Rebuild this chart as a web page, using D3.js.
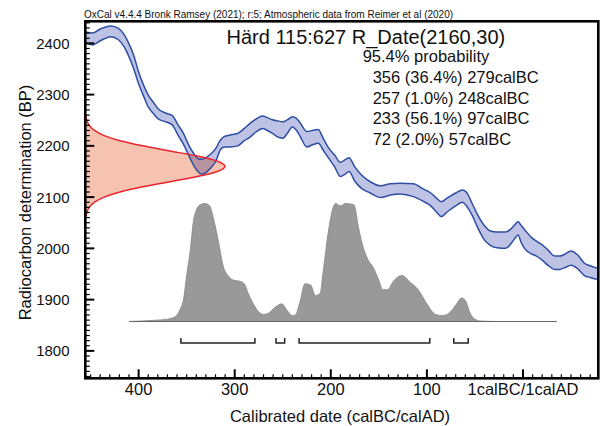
<!DOCTYPE html>
<html><head><meta charset="utf-8">
<script src="https://cdn.jsdelivr.net/npm/d3@7"></script>
<style>
html,body{margin:0;padding:0;background:#fff;}
svg{display:block;font-family:"Liberation Sans",Arial,sans-serif;}
</style></head>
<body><svg id="c" width="600" height="426"></svg>
<script>
// ---- data (years: negative = calBC, 0 = 1calBC/1calAD boundary) ----
const headerText = "OxCal v4.4.4 Bronk Ramsey (2021); r:5; Atmospheric data from Reimer et al (2020)";
const titleText = "Härd 115:627 R_Date(2160,30)";
const probText = "95.4% probability";
const rangeFrom = [356, 257, 233, 72];
const rangeTo = [279, 248, 97, 57];
const rangePct = ["36.4%", "1.0%", "56.1%", "2.0%"];

const xTickValues = [-400, -300, -200, -100, 0];
const xTickLabels = ["400", "300", "200", "100", "1calBC/1calAD"];
const yTickValues = [1800, 1900, 2000, 2100, 2200, 2300, 2400];

// calibration curve (IntCal20) band: year, upper BP, lower BP
const curveYears = [-455,-448,-440,-429,-421,-415,-411,-405,-400,-395,-390,-385,-380,-372,-365,-359,-353,-348,-343,-338,-334,-330,-325,-320,-315,-311,-305,-297,-290,-284,-278,-271,-266,-261,-256,-250,-245,-240,-236,-232,-225,-219,-213,-208,-203,-196,-190,-185,-181,-175,-168,-159,-148,-138,-128,-114,-104,-96,-90,-85,-79,-70,-63,-59,-53,-47,-40,-34,-27,-18,-13,-9,-5,-2,2,9,14,20,26,33,38,43,50,57,64,70,78];
const curveUpper = [2422,2420,2428,2434,2429,2417,2403,2376,2344,2319,2299,2286,2273,2264,2259,2241,2223,2202,2186,2175,2174,2177,2184,2194,2211,2218,2221,2224,2234,2244,2252,2258,2255,2251,2249,2247,2251,2257,2254,2245,2228,2230,2232,2215,2198,2182,2168,2173,2177,2159,2143,2130,2122,2126,2127,2126,2116,2108,2098,2091,2098,2108,2114,2110,2088,2065,2044,2034,2032,2032,2037,2045,2052,2045,2036,2021,2014,2007,1997,1985,1985,1988,1995,1987,1971,1966,1961];
const curveLower = [2401,2397,2405,2413,2407,2393,2378,2350,2321,2298,2276,2264,2253,2247,2241,2221,2202,2182,2163,2149,2145,2148,2157,2169,2192,2198,2198,2200,2210,2217,2227,2234,2230,2225,2218,2215,2225,2237,2231,2219,2198,2202,2205,2192,2178,2159,2140,2145,2150,2131,2117,2108,2099,2104,2106,2101,2092,2083,2071,2062,2071,2083,2090,2083,2065,2040,2016,2006,2001,2000,2008,2018,2026,2012,1999,1989,1985,1977,1967,1959,1959,1962,1967,1960,1947,1943,1939];

// radiocarbon measurement: BP and relative density (R_Date 2160 ± 30)
const gaussBP = [2060,2070,2080,2090,2100,2110,2120,2130,2140,2150,2160,2170,2180,2190,2200,2210,2220,2230,2240,2250,2260];
const gaussDensity = [0.004,0.011,0.028,0.066,0.135,0.249,0.411,0.607,0.801,0.946,1,0.946,0.801,0.607,0.411,0.249,0.135,0.066,0.028,0.011,0.004];

// calibrated probability distribution (relative)
const probYears = [-410,-384,-370,-362,-357,-353,-350,-346,-343,-341,-336,-331,-326,-322,-317,-312,-306,-301,-294,-290,-286,-280,-275,-270,-265,-258,-251,-246,-240,-237,-232,-227,-221,-216,-211,-208,-202,-197,-195,-190,-185,-176,-171,-166,-161,-156,-150,-146,-141,-135,-126,-117,-109,-100,-91,-84,-77,-69,-64,-60,-55,-50,-44,-24,35];
const probValues = [0,0.01,0.02,0.04,0.1,0.2,0.39,0.62,0.85,0.92,0.99,1,0.98,0.87,0.68,0.47,0.38,0.35,0.34,0.32,0.24,0.14,0.08,0.06,0.07,0.12,0.15,0.1,0.05,0.055,0.17,0.32,0.31,0.22,0.24,0.42,0.79,0.98,1,0.98,1,0.99,0.79,0.62,0.52,0.46,0.35,0.27,0.27,0.34,0.39,0.33,0.27,0.15,0.06,0.05,0.07,0.15,0.2,0.18,0.07,0.02,0.004,0,0];

// ---- layout ----
const L = 85.3, R = 598.3, T = 21.3, B = 378.3;
const svg = d3.select("#c");
const x = d3.scaleLinear().domain([-455.5, 78.4]).range([L, R]);
const y = d3.scaleLinear().domain([1746.5, 2443]).range([B, T]);
const yp = d3.scaleLinear().domain([0, 1]).range([321.5, 203.5]);
const xg = d3.scaleLinear().domain([0, 1]).range([L, 225]);

svg.append("defs").append("clipPath").attr("id", "clip")
  .append("rect").attr("x", L).attr("y", T).attr("width", R - L).attr("height", B - T);
const plot = svg.append("g").attr("clip-path", "url(#clip)");

// red measurement distribution
const gauss = gaussBP.map((b, i) => ({b, d: gaussDensity[i]}));
plot.append("path").datum(gauss)
  .attr("d", d3.area().curve(d3.curveMonotoneY).y(d => y(d.b)).x0(L).x1(d => xg(d.d)))
  .attr("fill", "#f6c3b1").attr("stroke", "none");

// calibration curve band
const curve = curveYears.map((yr, i) => ({yr, u: curveUpper[i], l: curveLower[i]}));
plot.append("path").datum(curve)
  .attr("d", d3.area().curve(d3.curveMonotoneX).x(d => x(d.yr)).y0(d => y(d.l)).y1(d => y(d.u)))
  .attr("fill", "#bec2e5").style("mix-blend-mode", "multiply");
const lineU = d3.line().curve(d3.curveMonotoneX).x(d => x(d.yr)).y(d => y(d.u));
const lineL = d3.line().curve(d3.curveMonotoneX).x(d => x(d.yr)).y(d => y(d.l));
plot.append("path").datum(curve).attr("d", lineU).attr("fill", "none").attr("stroke", "#2d4ea3").attr("stroke-width", 1.5);
plot.append("path").datum(curve).attr("d", lineL).attr("fill", "none").attr("stroke", "#2d4ea3").attr("stroke-width", 1.5);

// red outline
plot.append("path").datum(gauss)
  .attr("d", d3.line().curve(d3.curveMonotoneY).y(d => y(d.b)).x(d => xg(d.d)))
  .attr("fill", "none").attr("stroke", "#e8232b").attr("stroke-width", 1.5);

// calibrated distribution
const prob = probYears.map((yr, i) => ({yr, p: probValues[i]}));
plot.append("path").datum(prob)
  .attr("d", d3.area().curve(d3.curveMonotoneX).x(d => x(d.yr)).y0(yp(0)).y1(d => yp(d.p)))
  .attr("fill", "#999999").attr("stroke", "#858585").attr("stroke-width", 0.8);
plot.append("line").attr("x1", x(probYears[0])).attr("x2", x(probYears[probYears.length - 1]))
  .attr("y1", yp(0)).attr("y2", yp(0)).attr("stroke", "#666").attr("stroke-width", 1.2);

// range brackets
const by = 343, bh = 5;
rangeFrom.forEach((f, i) => {
  const x1 = x(-f), x2 = x(-rangeTo[i]);
  svg.append("path").attr("d", `M${x1},${by - bh}V${by}H${x2}V${by - bh}`)
    .attr("fill", "none").attr("stroke", "#222").attr("stroke-width", 1.5);
});

// ticks
const tg = svg.append("g").attr("stroke", "#000").attr("stroke-width", 1.2);
d3.range(-450, 71, 10).forEach(v => {
  const len = v % 100 === 0 ? 9 : 4;
  tg.append("line").attr("x1", x(v)).attr("x2", x(v)).attr("y1", B).attr("y2", B - len)
    .attr("stroke-width", v % 100 === 0 ? 2 : 1.2);
});
d3.range(1750, 2441, 10).forEach(v => {
  const len = v % 100 === 0 ? 9 : 4.5;
  tg.append("line").attr("y1", y(v)).attr("y2", y(v)).attr("x1", L).attr("x2", L + len)
    .attr("stroke-width", v % 100 === 0 ? 2 : 1.2);
});

// frame
svg.append("rect").attr("x", L).attr("y", T).attr("width", R - L).attr("height", B - T)
  .attr("fill", "none").attr("stroke", "#000").attr("stroke-width", 2.6);

// tick labels
svg.append("g").selectAll("text").data(xTickValues).join("text")
  .attr("x", d => x(d)).attr("y", 395).attr("text-anchor", "middle")
  .attr("font-size", 16.5).attr("fill", "#111").text((d, i) => xTickLabels[i]);
svg.append("g").selectAll("text").data(yTickValues).join("text")
  .attr("x", 69.5).attr("y", d => y(d)).attr("dy", "0.36em").attr("text-anchor", "end")
  .attr("font-size", 15).attr("fill", "#111").text(d => d);

// axis titles
svg.append("text").attr("x", 340).attr("y", 422).attr("text-anchor", "middle")
  .attr("font-size", 16.5).attr("fill", "#111").text("Calibrated date (calBC/calAD)");
svg.append("text").attr("transform", "translate(31,202.5) rotate(-90)").attr("text-anchor", "middle")
  .attr("font-size", 16.5).attr("fill", "#111").text("Radiocarbon determination (BP)");

// header and annotations
svg.append("text").attr("x", 84).attr("y", 18).attr("font-size", 10).attr("fill", "#111").text(headerText);
svg.append("text").attr("x", 226.5).attr("y", 44.2).attr("font-size", 20).attr("fill", "#111").text(titleText);
svg.append("text").attr("x", 362.7).attr("y", 61.8).attr("font-size", 16.5).attr("fill", "#111").text(probText);
const lineY = [83, 103.7, 124, 144.7];
rangeFrom.forEach((f, i) => {
  svg.append("text").attr("x", 372.7).attr("y", lineY[i]).attr("font-size", 16.5).attr("fill", "#111")
    .text(`${f} (${rangePct[i]}) ${rangeTo[i]}calBC`);
});
</script></body></html>
